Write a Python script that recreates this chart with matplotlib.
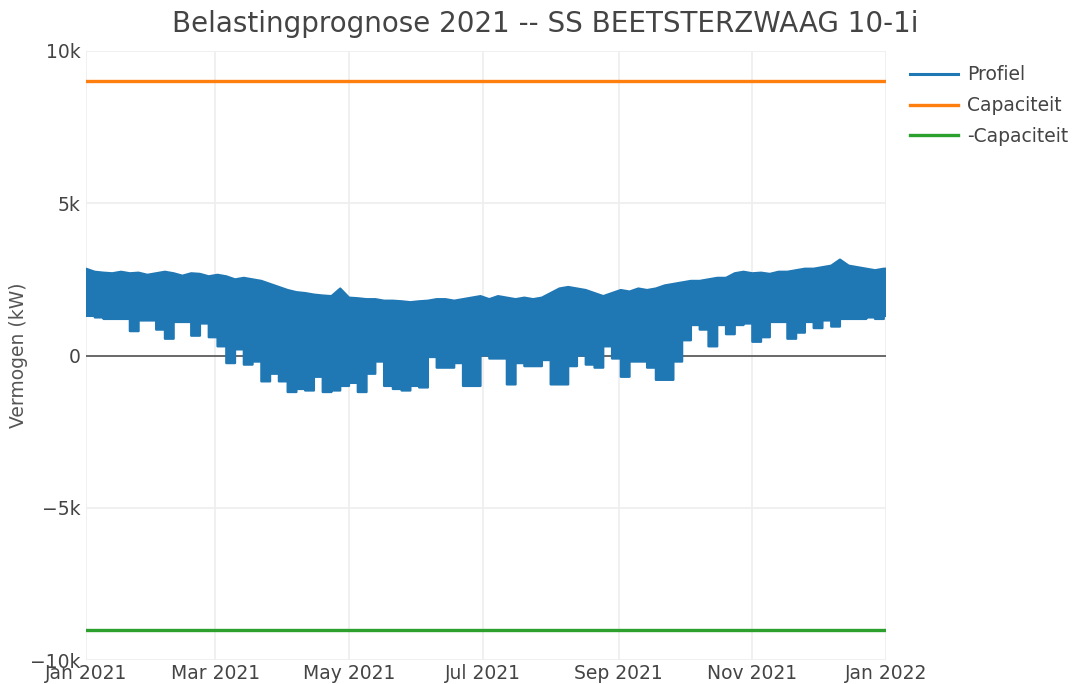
import numpy as np
import pandas as pd
import matplotlib
matplotlib.use("Agg")
import matplotlib.pyplot as plt
import matplotlib.dates as mdates

# ---- data (kW) ----
sample_step_days = 4
profile_top_k = [2.85, 2.75, 2.72, 2.70, 2.75, 2.70, 2.72, 2.65, 2.70, 2.75,
                 2.70, 2.62, 2.70, 2.68, 2.60, 2.65, 2.60, 2.50, 2.55, 2.50,
                 2.45, 2.35, 2.25, 2.15, 2.08, 2.05, 2.00, 1.97, 1.95, 2.20,
                 1.90, 1.88, 1.85, 1.85, 1.80, 1.80, 1.78, 1.75, 1.78, 1.80,
                 1.85, 1.85, 1.80, 1.85, 1.90, 1.95, 1.85, 1.95, 1.90, 1.85,
                 1.90, 1.85, 1.90, 2.05, 2.20, 2.25, 2.20, 2.15, 2.05, 1.95,
                 2.05, 2.15, 2.10, 2.20, 2.15, 2.20, 2.30, 2.35, 2.40, 2.45,
                 2.45, 2.50, 2.55, 2.55, 2.70, 2.75, 2.70, 2.72, 2.68, 2.75,
                 2.75, 2.80, 2.85, 2.85, 2.90, 2.95, 3.15, 2.95, 2.90, 2.85,
                 2.80, 2.85]
profile_bottom_k = [1.30, 1.25, 1.20, 1.20, 1.20, 0.80, 1.15, 1.15, 0.85, 0.55,
                    1.10, 1.10, 0.65, 1.05, 0.60, 0.30, -0.25, 0.20, -0.30, -0.20,
                    -0.85, -0.60, -0.85, -1.20, -1.10, -1.15, -0.70, -1.20, -1.15, -1.00,
                    -0.90, -1.20, -0.60, -0.20, -1.00, -1.10, -1.15, -1.00, -1.05, -0.05,
                    -0.40, -0.40, -0.25, -1.00, -1.00, 0.00, -0.10, -0.10, -0.95, -0.25,
                    -0.35, -0.35, -0.15, -0.95, -0.95, -0.35, 0.00, -0.30, -0.40, 0.30,
                    -0.10, -0.70, -0.20, -0.20, -0.40, -0.80, -0.80, -0.20, 0.50, 1.00,
                    0.85, 0.30, 1.00, 0.70, 1.00, 1.05, 0.45, 0.60, 1.10, 1.10,
                    0.55, 0.75, 1.10, 0.90, 1.15, 0.95, 1.20, 1.20, 1.20, 1.25,
                    1.20, 1.30]
capacity_kw = 9000
x_tick_labels = ["Jan 2021", "Mar 2021", "May 2021", "Jul 2021", "Sep 2021", "Nov 2021", "Jan 2022"]
y_tick_values = [-10000, -5000, 0, 5000, 10000]
y_tick_labels = ["\u221210k", "\u22125k", "0", "5k", "10k"]

# ---- build series ----
start = pd.Timestamp("2021-01-01")
end = pd.Timestamp("2022-01-01")
n = len(profile_top_k)
dates = [start + pd.Timedelta(days=sample_step_days * i) for i in range(n)]
edges = dates + [end]
top = np.array(profile_top_k) * 1000
bot = np.array(profile_bottom_k) * 1000

# polygon: jagged upper edge through the samples, blocky lower edge per sample
xnum = mdates.date2num(edges)
poly_x = list(xnum[:-1]) + [xnum[-1]]
poly_y = list(top) + [top[-1]]
low_x, low_y = [], []
for i in range(n - 1, -1, -1):
    low_x += [xnum[i + 1], xnum[i]]
    low_y += [bot[i], bot[i]]
poly_x += low_x
poly_y += low_y

# ---- figure ----
W, H = 1076, 684
fig = plt.figure(figsize=(W / 100, H / 100), dpi=100)
ax = fig.add_axes([86 / W, 1 - 660 / H, 800 / W, 609 / H])

blue, orange, green = "#1f77b4", "#ff7f0e", "#2ca02c"
txt = "#444444"

ax.fill(poly_x, poly_y, color=blue, lw=1.6, edgecolor=blue, joinstyle="round", zorder=3)
prof_handle, = ax.plot([], [], color=blue, lw=2.2)
cap_h, = ax.plot([start, end], [capacity_kw, capacity_kw], color=orange, lw=2.4, zorder=4)
ncap_h, = ax.plot([start, end], [-capacity_kw, -capacity_kw], color=green, lw=2.4, zorder=4)

ax.set_xlim(start, end)
ax.set_ylim(-10000, 10000)

tick_dates = [pd.Timestamp(s) for s in ["2021-01-01", "2021-03-01", "2021-05-01", "2021-07-01",
                                          "2021-09-01", "2021-11-01", "2022-01-01"]]
ax.set_xticks(tick_dates)
ax.set_xticklabels(x_tick_labels)
ax.set_yticks(y_tick_values)
ax.set_yticklabels(y_tick_labels)
ax.tick_params(axis="both", length=0, labelsize=13.5, labelcolor=txt)
ax.tick_params(axis="y", pad=4)
ax.tick_params(axis="x", pad=3)

ax.grid(True, color="#eeeeee", lw=1.2, zorder=0)
ax.axhline(0, color=txt, lw=1.1, zorder=2)
for s in ax.spines.values():
    s.set_visible(False)
ax.set_axisbelow(True)

ax.set_ylabel("Vermogen (kW)", fontsize=13.5, color="#555555")
ax.yaxis.set_label_coords((28 - 86) / 800, 0.5)
fig.text(545 / W, 1 - 24 / H, "Belastingprognose 2021 -- SS BEETSTERZWAAG 10-1i",
         ha="center", va="center", fontsize=20, color=txt)

leg = fig.legend([prof_handle, cap_h, ncap_h], ["Profiel", "Capaciteit", "-Capaciteit"],
                 loc="upper left", bbox_to_anchor=(902 / W, 1 - 58 / H), frameon=False,
                 fontsize=13.5, handlelength=2.6, handletextpad=0.45, labelspacing=0.62,
                 borderaxespad=0)
for t in leg.get_texts():
    t.set_color(txt)

fig.savefig("out.png", dpi=100, facecolor="white")
